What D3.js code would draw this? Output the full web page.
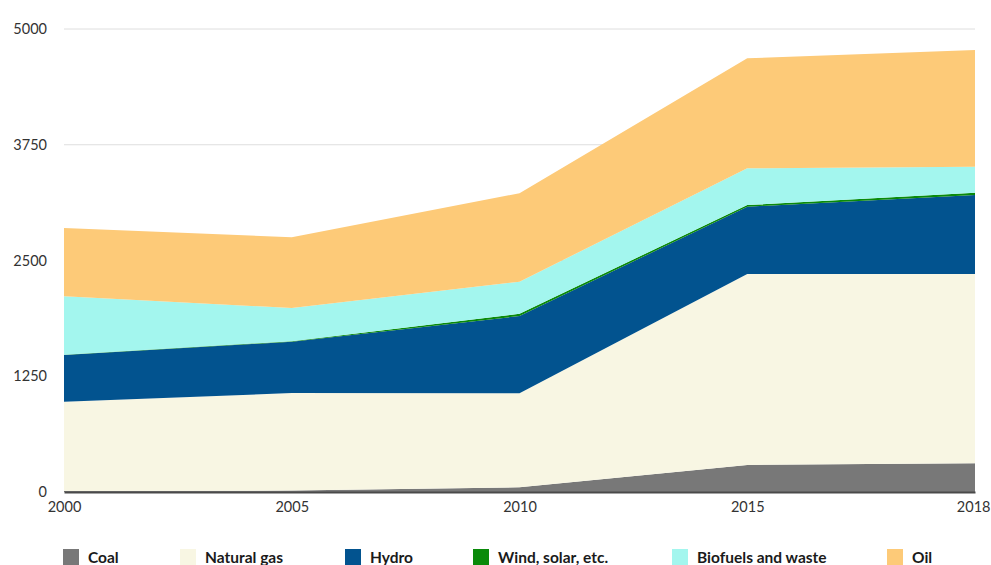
<!DOCTYPE html>
<html lang="en">
    <head>
        <meta charset="utf-8">
        <title>Energy supply by source</title>
        <script type="text/javascript" src="https://d3js.org/d3.v7.min.js"></script>
        <style type="text/css">
            body { margin: 0; background: #fff; }
            text { font-family: Lato, "Open Sans", sans-serif; }
        </style>
    </head>
    <body>
        <div id="chart"></div>
        <script type="text/javascript">

            // data
            var years = ["2000", "2005", "2010", "2015", "2018"];
            var coal = [10, 15, 50, 292, 310];
            var naturalGas = [965, 1054, 1016, 2062, 2044];
            var hydro = [504, 554, 834, 727, 853];
            var wind = [4, 6, 25, 18, 25];
            var biofuels = [630, 358, 346, 397, 281];
            var oil = [739, 763, 955, 1187, 1260];
            var yTicks = [0, 1250, 2500, 3750, 5000];

            var seriesNames = ["Coal", "Natural gas", "Hydro", "Wind, solar, etc.", "Biofuels and waste", "Oil"];
            var seriesValues = [coal, naturalGas, hydro, wind, biofuels, oil];
            var colors = ["#787878", "#f8f6e3", "#02538f", "#0a8a0a", "#a3f6ee", "#fdca78"];

            var table = years.map(function(y, i) {
                var row = { year: y };
                seriesNames.forEach(function(n, k) { row[n] = seriesValues[k][i]; });
                return row;
            });

            var margin = {top: 29, right: 16, bottom: 73, left: 64},
                width = 991 - margin.left - margin.right,
                height = 565 - margin.top - margin.bottom;

            var svg = d3.select("#chart")
                .append("svg")
                    .attr("width", 991)
                    .attr("height", 565)
                .append("g")
                    .attr("transform", "translate(" + margin.left + "," + margin.top + ")");

            var x = d3.scalePoint().domain(years).range([0, width]);
            var y = d3.scaleLinear().domain([0, 5000]).range([height, 0]);

            // gridlines
            svg.append("g")
                .selectAll("line")
                .data(yTicks.slice(1))
                .join("line")
                    .attr("x1", 0)
                    .attr("x2", width)
                    .attr("y1", function(d) { return y(d); })
                    .attr("y2", function(d) { return y(d); })
                    .attr("stroke", "#dedede")
                    .attr("stroke-width", 1);

            // stacked areas
            var stacked = d3.stack().keys(seriesNames)(table);
            var area = d3.area()
                .x(function(d) { return x(d.data.year); })
                .y0(function(d) { return y(d[0]); })
                .y1(function(d) { return y(d[1]); });

            svg.append("g")
                .selectAll("path")
                .data(stacked)
                .join("path")
                    .attr("fill", function(d, i) { return colors[i]; })
                    .attr("d", area);

            // Y axis labels
            var yAxis = svg.append("g")
                .call(d3.axisLeft(y).tickValues(yTicks).tickFormat(d3.format("d")).tickSize(0).tickPadding(17));
            yAxis.select(".domain").remove();
            yAxis.selectAll("text")
                .attr("font-size", 14.5)
                .attr("fill", "#333")
                .attr("font-family", "'Open Sans', sans-serif");

            // X axis
            var xAxis = svg.append("g")
                .attr("transform", "translate(0," + height + ")")
                .call(d3.axisBottom(x).tickSize(0).tickPadding(10));
            xAxis.select(".domain")
                .attr("stroke", "#4a4a4a")
                .attr("stroke-width", 2);
            xAxis.selectAll("text")
                .attr("font-size", 14.5)
                .attr("fill", "#333")
                .attr("font-family", "'Open Sans', sans-serif");
            // keep the last year label inside the page
            xAxis.selectAll("text")
                .filter(function(d) { return d === years[years.length - 1]; })
                .attr("text-anchor", "end")
                .attr("dx", 15);

            // legend
            var legendX = [63, 180, 345, 473, 672, 887];
            var legend = d3.select("svg").append("g")
                .selectAll("g")
                .data(seriesNames)
                .join("g")
                    .attr("transform", function(d, i) { return "translate(" + legendX[i] + ",549)"; });
            legend.append("rect")
                .attr("width", 16)
                .attr("height", 16)
                .attr("fill", function(d, i) { return colors[i]; });
            legend.append("text")
                .attr("x", 25)
                .attr("y", 13.5)
                .attr("font-size", 15.5)
                .attr("font-weight", "bold")
                .attr("fill", "#1a1a1a")
                .text(function(d) { return d; });
        </script>
    </body>
</html>
